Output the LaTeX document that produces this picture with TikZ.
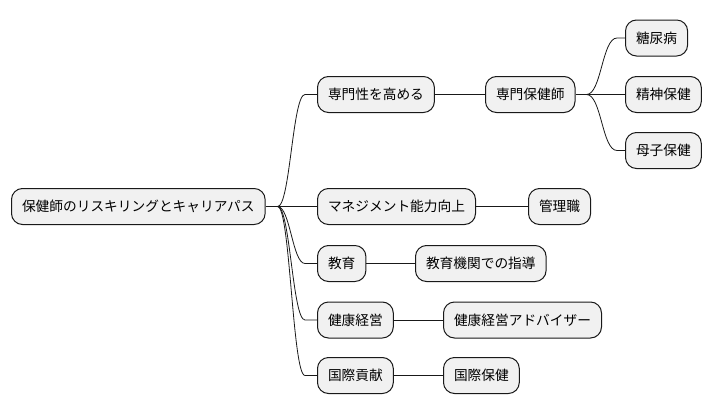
\documentclass[tikz,border=0pt]{standalone}
\usepackage{fontspec}
\setmainfont{Noto Sans CJK JP}
\begin{document}
\begin{tikzpicture}[x=1pt,y=-1pt,
  box/.style={draw=black!90,fill={rgb,255:red,241;green,241;blue,241},line width=1pt,
    rounded corners=11pt,anchor=west,minimum height=36pt,inner xsep=10.5pt,inner ysep=0pt,
    font=\fontsize{13.7pt}{14pt}\selectfont},
  conn/.style={draw=black!90,line width=0.8pt}]
\useasboundingbox (0,0) rectangle (712,415);
% nodes
\node[box] (root) at (11,206.5) {保健師のリスキリングとキャリアパス};
\node[box] (n1) at (317,94.5) {専門性を高める};
\node[box] (n2) at (317,206.5) {マネジメント能力向上};
\node[box] (n3) at (317,263.5) {教育};
\node[box] (n4) at (317,320) {健康経営};
\node[box] (n5) at (317,375.5) {国際貢献};
\node[box] (m1) at (485,94.5) {専門保健師};
\node[box] (m2) at (528,206.5) {管理職};
\node[box] (m3) at (415,263.5) {教育機関での指導};
\node[box] (m4) at (443,320) {健康経営アドバイザー};
\node[box] (m5) at (443,375.5) {国際保健};
\node[box] (l1) at (625,38) {糖尿病};
\node[box] (l2) at (625,94.5) {精神保健};
\node[box] (l3) at (625,150.5) {母子保健};
% connectors from root
\draw[conn] (root.east) -- ++(12,0) coordinate (rj);
\foreach \c in {n1,n2,n3,n4,n5}{
  \draw[conn] (rj) .. controls +(12.5,0) and ([xshift=-24.5pt]\c.west) .. ([xshift=-12pt]\c.west) -- (\c.west);
}
% connectors from m1
\draw[conn] (m1.east) -- ++(11,0) coordinate (mj);
\foreach \c in {l1,l2,l3}{
  \draw[conn] (mj) .. controls +(15,0) and ([xshift=-23pt]\c.west) .. ([xshift=-8pt]\c.west) -- (\c.west);
}
% straight connectors
\draw[conn] (n1.east) -- (m1.west);
\draw[conn] (n2.east) -- (m2.west);
\draw[conn] (n3.east) -- (m3.west);
\draw[conn] (n4.east) -- (m4.west);
\draw[conn] (n5.east) -- (m5.west);
\end{tikzpicture}
\end{document}
